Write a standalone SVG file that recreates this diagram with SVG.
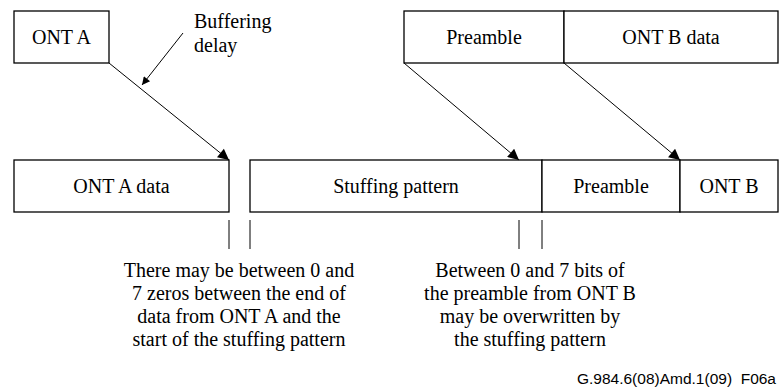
<svg xmlns="http://www.w3.org/2000/svg" width="783" height="392" viewBox="0 0 783 392">
<style>
.b{fill:#fff;stroke:#000;stroke-width:1.3}
.t{font-family:'Liberation Serif','Times New Roman','DejaVu Serif',serif;font-size:20px;fill:#000;text-anchor:middle}
.c{stroke:#000;stroke-width:1;fill:none}
.tick{stroke:#000;stroke-width:1}
.f{font-family:'Liberation Sans',Arial,sans-serif;font-size:15.5px;fill:#000;text-anchor:end}
</style>
<defs>
<marker id="ah" viewBox="0 0 10 10" refX="10" refY="5" markerWidth="11" markerHeight="8" markerUnits="userSpaceOnUse" orient="auto">
<path d="M0,0 L10,5 L0,10 z" fill="#000"/>
</marker>
<marker id="ah2" viewBox="0 0 10 10" refX="10" refY="5" markerWidth="15" markerHeight="11" markerUnits="userSpaceOnUse" orient="auto">
<path d="M0,0 L10,5 L0,10 z" fill="#000"/>
</marker>
</defs>
<rect width="783" height="392" fill="#fff"/>
<g id="ontA"><rect class="b" x="14" y="11" width="95" height="52"/><text class="t" x="61.5" y="44">ONT A</text></g>
<g id="preambleTop"><rect class="b" x="404" y="11" width="160" height="52"/><text class="t" x="484" y="44">Preamble</text></g>
<g id="ontBdata"><rect class="b" x="564" y="11" width="214" height="52"/><text class="t" x="671" y="44">ONT B data</text></g>
<g id="ontAdata"><rect class="b" x="14" y="160" width="215" height="52"/><text class="t" x="121.5" y="193">ONT A data</text></g>
<g id="stuffing"><rect class="b" x="250" y="160" width="292" height="52"/><text class="t" x="396" y="193">Stuffing pattern</text></g>
<g id="preambleBot"><rect class="b" x="542" y="160" width="138" height="52"/><text class="t" x="611" y="193">Preamble</text></g>
<g id="ontB"><rect class="b" x="680" y="160" width="98" height="52"/><text class="t" x="729" y="193">ONT B</text></g>
<g id="connectors">
<line class="c" x1="109" y1="63" x2="229" y2="160" marker-end="url(#ah2)"/>
<line class="c" x1="404" y1="63" x2="519" y2="160" marker-end="url(#ah2)"/>
<line class="c" x1="564" y1="63" x2="680" y2="160" marker-end="url(#ah2)"/>
<line class="c" x1="183" y1="33" x2="142" y2="85" marker-end="url(#ah)"/>
</g>
<g id="labels">
<text class="t" x="194" y="28" style="text-anchor:start">Buffering</text>
<text class="t" x="194" y="52" style="text-anchor:start">delay</text>
<line class="tick" x1="229" y1="220" x2="229" y2="249"/>
<line class="tick" x1="250" y1="220" x2="250" y2="249"/>
<line class="tick" x1="519" y1="220" x2="519" y2="249"/>
<line class="tick" x1="542" y1="220" x2="542" y2="249"/>
<text class="t" x="239" y="277">There may be between 0 and</text>
<text class="t" x="239" y="300">7 zeros between the end of</text>
<text class="t" x="239" y="323">data from ONT A and the</text>
<text class="t" x="239" y="346">start of the stuffing pattern</text>
<text class="t" x="530" y="277">Between 0 and 7 bits of</text>
<text class="t" x="530" y="300">the preamble from ONT B</text>
<text class="t" x="530" y="323">may be overwritten by</text>
<text class="t" x="530" y="346">the stuffing pattern</text>
<text class="f" x="776" y="384" xml:space="preserve">G.984.6(08)Amd.1(09)  F06a</text>
</g>
</svg>
